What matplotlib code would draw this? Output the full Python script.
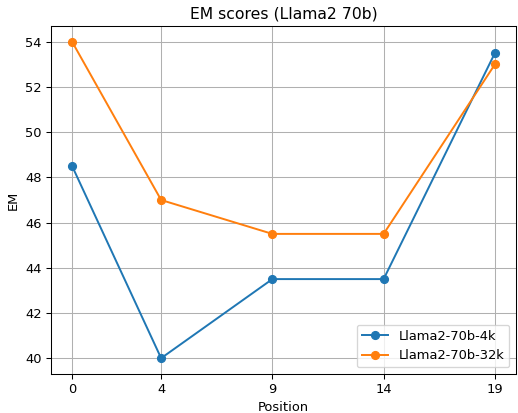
import matplotlib
matplotlib.use("Agg")
import matplotlib.pyplot as plt

positions = [0, 4, 9, 14, 19]
em_4k = [48.5, 40, 43.5, 43.5, 53.5]
em_32k = [54, 47, 45.5, 45.5, 53]

# the reference looks like a default chart saved at a lower dpi
dpi = 94
fig = plt.figure(figsize=(518 / dpi, 413 / dpi), dpi=dpi)
ax = fig.add_axes([51 / 518, 39 / 413, 465 / 518, 348 / 413])

ax.plot(positions, em_4k, marker="o", label="Llama2-70b-4k")
ax.plot(positions, em_32k, marker="o", label="Llama2-70b-32k")

ax.set_xticks(positions)
ax.set_xlabel("Position")
ax.set_ylabel("EM")
ax.set_title("EM scores (Llama2 70b)")
ax.grid(True)
ax.legend(loc="lower right")

fig.savefig("out.png", dpi=dpi)
